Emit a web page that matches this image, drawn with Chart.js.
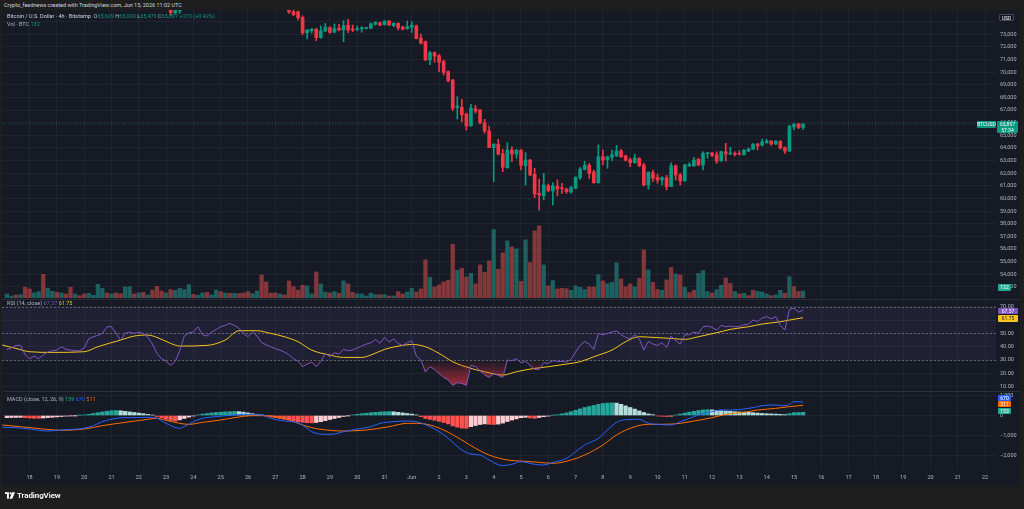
<!DOCTYPE html>
<html>
<head>
<meta charset="utf-8">
<title>BTCUSD 4h - Bitstamp</title>
<script src="https://cdn.jsdelivr.net/npm/chart.js@4.4.1/dist/chart.umd.min.js"></script>
<style>
  html, body { margin: 0; padding: 0; }
  body { width: 1024px; height: 509px; background: #1e1e1e; position: relative; overflow: hidden;
         font-family: Roboto, "Liberation Sans", sans-serif; color: #d1d4dc; }
  .abs { position: absolute; }
  #pane { left: 2px; top: 10px; width: 1018px; height: 476px; background: #161a25; }
  canvas { position: absolute; left: 2px; }
  #price { top: 10px; }
  #rsi { top: 301px; }
  #macd { top: 392px; }
  .sep { left: 2px; width: 1018px; height: 1px; background: #2a2e39; }
  .txt { font-size: 5.5px; line-height: 7px; white-space: nowrap; color: #b2b5be; }
  .tag { position: absolute; font-size: 5px; line-height: 6px; color: #fff; text-align: center; white-space: nowrap; border-radius: 1px; }
</style>
</head>
<body>
<div id="pane" class="abs"></div>
<canvas id="price" width="1018" height="288"></canvas>
<canvas id="rsi" width="1018" height="90"></canvas>
<canvas id="macd" width="1018" height="94"></canvas>
<div class="abs sep" style="top:299px"></div>
<div class="abs sep" style="top:391px"></div>

<div class="abs txt" style="left:4px;top:1.5px;color:#d1d4dc">Crypto_feednews created with TradingView.com, Jun 15, 2026 11:02 UTC</div>
<div class="abs txt" id="leg1" style="left:7px;top:13px"></div>
<div class="abs txt" id="leg2" style="left:7px;top:20.5px"></div>
<div class="abs txt" id="legRsi" style="left:7px;top:300px"></div>
<div class="abs txt" id="legMacd" style="left:7px;top:395.5px"></div>

<div class="tag" style="left:999px;top:14px;width:15px;height:7px;line-height:7px;background:#131722;border:0.5px solid #434651;box-sizing:border-box">USD</div>
<div class="tag" id="tagSym" style="left:977px;width:19px;height:7px;line-height:7px;background:#089981">BTCUSD</div>
<div class="tag" id="tagPrice" style="left:997px;width:21px;height:12px;background:#089981"></div>
<div class="tag" id="tagVol" style="left:998px;top:284px;width:13px;height:7px;line-height:7px;background:#22ab94"></div>
<div class="tag" id="tagRsi" style="left:998px;top:307.5px;width:20px;height:6.5px;background:#7e57c2"></div>
<div class="tag" id="tagRsiMa" style="left:998px;top:315px;width:20px;height:6.5px;background:#f7c51c;color:#131722"></div>
<div class="tag" id="tagMacd" style="left:998px;top:394.5px;width:13px;height:6px;background:#2962ff"></div>
<div class="tag" id="tagSig" style="left:998px;top:401px;width:13px;height:6px;background:#ff6d00"></div>
<div class="tag" id="tagHist" style="left:998px;top:407.5px;width:13px;height:6px;background:#22ab94"></div>

<div class="abs" style="left:5px;top:490px;height:10px;display:flex;align-items:center;gap:2px">
  <svg width="10" height="7" viewBox="0 0 36 24"><path fill="#fff" d="M0 0h14v24H7V7H0z"/><circle fill="#fff" cx="20" cy="4" r="4"/><path fill="#fff" d="M26 0h10L26 24H16z"/></svg>
  <span style="font-size:8px;font-weight:600;color:#fff;letter-spacing:-0.1px">TradingView</span>
</div>

<script>
// time axis: 4h bars, index 0 = May 17 04:00 UTC
const dayLabels = ['18','19','20','21','22','23','24','25','26','27','28','29','30','31','Jun',
  '2','3','4','5','6','7','8','9','10','11','12','13','14','15','16','17','18','19','20','21','22'];
const firstDayBar = 5;
const barsPerDay = 6;

// candles from bar 36 (older bars sit above the visible price range)
const ohlcStart = 36;
const open = [
  75200, 74700, 74850,
  null, null, null, null, null, null, null, null, null, null, null, null,
  null, null, null, null, null, null, null, null, null, null, null,
  75000, 74780, 74789, 74346, 73127, 73285, 73396, 72731, 73261, 73522,
  73158, 73475, 73340, 73736, 73420, 73364, 73443, 73475, 73475, 73792,
  73918, 73760, 74053, 73681, 73871, 73578, 73443, 73554, 73681, 72707,
  72414, 70965, 71543, 71306, 70847, 70039, 69382, 67189, 67220, 66690,
  65740, 67110, 67006, 66001, 65344, 64022, 64291, 63547, 62439, 63840,
  63523, 63816, 62597, 63048, 61916, 60412, 60222, 61013, 60594, 60990,
  60832, 60752, 60515, 60808, 61647, 62312, 62629, 62097, 61251, 63309,
  63072, 63262, 63389, 63761, 63365, 63072, 62834, 63183, 62652, 61069,
  62043, 61679, 61465, 61647, 60935, 62597, 61861, 61386, 62597, 62597,
  63104, 62652, 63547, 63603, 63468, 62969, 63705, 63523, 63579, 63579,
  63468, 63761, 63895, 64315, 64212, 64418, 64553, 64315, 64529, 64022,
  63761, 65661, 65898, 65629
];
const high = [
  75400, 75300, 75400,
  null, null, null, null, null, null, null, null, null, null, null, null,
  null, null, null, null, null, null, null, null, null, null, null,
  75200, 74900, 74845, 74449, 73380, 73475, 73475, 73657, 73871, 73602,
  73815, 73792, 74077, 74188, 73736, 73657, 73602, 73554, 73895, 73998,
  73974, 74077, 74077, 73918, 73918, 73657, 74053, 73998, 73736, 73024,
  72469, 71654, 71622, 71385, 70965, 70118, 69437, 68060, 67854, 66770,
  67457, 67378, 67062, 66270, 65740, 64315, 64687, 63896, 64418, 64101,
  63896, 63895, 63626, 63104, 62392, 61520, 61995, 61148, 61251, 61465,
  61204, 60832, 60990, 61726, 62470, 62945, 62787, 62257, 64236, 63840,
  63365, 63840, 64212, 63895, 63444, 63207, 63500, 63231, 62787, 62122,
  62257, 61940, 61726, 61837, 62834, 62652, 61995, 62708, 62834, 63262,
  63183, 63705, 63658, 63658, 63705, 63761, 64371, 64054, 63705, 63784,
  63895, 63998, 64371, 64371, 64711, 64687, 64576, 64576, 64576, 64101,
  65795, 65953, 65953, 65930
];
const low = [
  74500, 74620, 74660,
  null, null, null, null, null, null, null, null, null, null, null, null,
  null, null, null, null, null, null, null, null, null, null, null,
  74660, 74480, 74132, 72968, 72628, 73079, 72493, 72683, 73206, 73079,
  73158, 73261, 72414, 73127, 73206, 73285, 73158, 73420, 73443, 73736,
  73681, 73736, 73713, 73602, 73340, 73340, 73396, 73158, 72628, 72232,
  70910, 70593, 70791, 70039, 69778, 69223, 66951, 66294, 66081, 65423,
  65740, 66745, 65899, 65162, 64022, 61330, 63444, 62122, 62392, 62913,
  63183, 62257, 61069, 61782, 60064, 59090, 59882, 60539, 59486, 60198,
  60412, 60412, 60412, 60776, 61520, 62257, 61599, 61203, 61203, 62652,
  62391, 62993, 63310, 63262, 62969, 62518, 62787, 62518, 60990, 60729,
  61330, 61203, 61069, 60673, 60935, 61465, 61069, 61386, 62518, 62518,
  62597, 62257, 63183, 63310, 62787, 62969, 62969, 63468, 63365, 63444,
  63421, 63705, 63895, 63840, 64157, 64371, 64212, 64260, 63919, 63579,
  63705, 65423, 65526, 65470
];
const close = [
  74700, 75000, 75300,
  null, null, null, null, null, null, null, null, null, null, null, null,
  null, null, null, null, null, null, null, null, null, null, null,
  74765, 74560, 74314, 73127, 73340, 73396, 72731, 73285, 73554, 73158,
  73443, 73340, 73681, 73340, 73340, 73443, 73499, 73522, 73839, 73950,
  73713, 74053, 73736, 73871, 73522, 73420, 73602, 73713, 72652, 72287,
  70965, 71543, 71282, 70791, 69991, 69319, 67141, 67323, 66635, 65740,
  67165, 66928, 66001, 65344, 64038, 64315, 63523, 62470, 63840, 63523,
  63816, 62629, 63048, 61861, 60356, 60277, 61069, 60618, 60990, 60752,
  60776, 60539, 60855, 61679, 62336, 62629, 61995, 61251, 63309, 63048,
  63286, 63468, 63761, 63309, 63024, 62834, 63207, 62597, 61069, 62074,
  61599, 61465, 61647, 60935, 62597, 61861, 61386, 62652, 62708, 63048,
  62652, 63579, 63579, 63421, 62969, 63705, 63523, 63579, 63500, 63500,
  63816, 63919, 64291, 64157, 64473, 64553, 64315, 64553, 63975, 63761,
  65740, 65898, 65624, 65897
];

// volume (BTC) for every bar from index 0, and its up/down colour flag
const volume = [
  76, 38, 57, 63, 202, 170, 95, 120, 447, 183,
  126, 107, 95, 76, 202, 76, 44, 76, 88, 50,
  258, 183, 95, 76, 95, 82, 208, 214, 76, 95,
  107, 57, 151, 221, 132, 95, 158, 145, 183, 158,
  252, 69, 50, 95, 107, 57, 151, 120, 95, 88,
  88, 82, 95, 120, 82, 132, 435, 302, 95, 95,
  76, 57, 321, 214, 151, 239, 227, 76, 491, 265,
  113, 95, 120, 88, 321, 265, 107, 76, 76, 38,
  88, 63, 63, 63, 38, 38, 120, 76, 113, 183,
  113, 170, 718, 391, 208, 246, 302, 334, 1014, 523,
  561, 397, 466, 265, 624, 485, 699, 1292, 542, 851,
  1077, 964, 926, 315, 1096, 668, 1266, 1361, 624, 227,
  328, 170, 183, 176, 145, 227, 202, 158, 208, 208,
  441, 321, 271, 296, 662, 359, 214, 265, 208, 372,
  907, 529, 296, 158, 145, 340, 573, 454, 435, 202,
  101, 145, 466, 517, 120, 95, 158, 239, 378, 277,
  120, 76, 88, 44, 145, 126, 113, 76, 44, 57,
  145, 88, 403, 214, 120, 132
];
const volUp = [
  1, 1, 0, 1, 0, 0, 1, 1, 0, 1,
  1, 0, 1, 0, 0, 1, 0, 0, 1, 1,
  1, 1, 0, 1, 0, 0, 1, 1, 0, 1,
  0, 1, 0, 0, 0, 1, 0, 1, 1, 1,
  1, 0, 1, 1, 0, 1, 1, 0, 1, 0,
  1, 0, 0, 0, 1, 1, 0, 0, 0, 0,
  1, 0, 0, 0, 0, 0, 1, 1, 0, 1,
  1, 0, 1, 0, 1, 0, 0, 1, 1, 1,
  1, 1, 0, 1, 0, 1, 0, 0, 1, 1,
  0, 0, 0, 1, 0, 0, 0, 0, 0, 1,
  0, 0, 1, 0, 0, 0, 0, 1, 0, 0,
  1, 0, 1, 0, 1, 0, 0, 0, 1, 0,
  1, 0, 0, 0, 1, 1, 1, 1, 0, 0,
  1, 0, 1, 1, 1, 0, 0, 0, 1, 0,
  0, 1, 0, 0, 1, 0, 0, 1, 0, 1,
  0, 0, 1, 1, 1, 0, 1, 1, 0, 0,
  1, 0, 1, 0, 0, 1, 1, 1, 0, 1,
  1, 0, 1, 0, 0, 1, 1, 0, 1
];

// RSI(14) per bar, and its moving average read at sampled bars
const rsi = [
  38, 39, 41, 41, 34, 31, 33, 31, 34, 36,
  37, 37.5, 40, 38, 37.5, 37, 37, 39, 46, 47.5,
  48.5, 50, 55, 55, 50, 45, 50, 51, 50, 51,
  50, 47, 42, 35, 31, 29, 26, 29, 37, 48,
  50.5, 51, 55, 49, 48, 51, 53, 55, 56, 57.5,
  56, 54, 50, 47.5, 51, 48, 43, 41.5, 40, 38.5,
  37.5, 36, 34, 31, 29, 25, 27, 28.5, 25, 29,
  35, 32.5, 35.5, 34.5, 38, 37, 37.5, 39, 40.5, 42,
  43, 45.5, 42.5, 47, 43.5, 46, 42.5, 41, 43, 44.5,
  33, 30, 21, 25, 23, 20, 17, 15, 11, 13,
  12.5, 11, 26, 25, 22, 19, 17, 20, 18.5, 17,
  30, 29.5, 31, 28, 29, 26, 23, 23, 28, 27.5,
  29.5, 29, 29, 28.5, 30.5, 36, 41, 44, 42, 38,
  50, 49, 50, 51, 52, 49, 47, 46, 49, 46,
  37.5, 44, 42, 41, 43, 39.5, 48, 44.5, 42, 49,
  49, 51, 50, 55, 55.5, 54.5, 52.5, 56, 55, 55.5,
  55, 55, 56.5, 57, 60, 59, 61.5, 62.5, 61, 62.5,
  56, 52.5, 68, 69, 66, 67.37
];
const rsiMaAt = [-1, 2, 5, 10, 17, 20, 25, 28, 31, 33, 36, 38, 44, 48, 51, 55, 58, 61, 64, 67,
  71, 74, 78, 80, 83, 87, 89, 92, 95, 98, 102, 105, 109, 112, 116, 119, 123, 126, 129, 133,
  136, 139, 142, 146, 149, 152, 156, 159, 163, 166, 170, 172, 175];
const rsiMa = [41.25, 38.75, 36.25, 35.75, 36.25, 40, 45, 48, 48.75, 47, 42.5, 40.5, 41, 45, 52, 52, 50, 47.5, 43.75, 37.5,
  33.75, 32, 32, 33.75, 38, 41, 41.75, 40, 35, 28.75, 23.75, 21.25, 18.75, 21.25, 23.75, 25, 27, 28.75, 32.5, 37.5,
  43.75, 47.5, 47, 46.25, 45.5, 47.5, 50.5, 53, 55, 57, 58.75, 60, 61.75];

// MACD(12, 26, 9): lines read at sampled bars, histogram per bar
const macdAt = [-1, 2, 5, 9, 11, 13, 17, 19, 21, 24, 26, 28, 31, 33, 35, 38, 39, 41, 43, 46,
  48, 50, 52, 56, 58, 61, 63, 65, 67, 70, 72, 74, 78, 80, 82, 85, 88, 90, 93, 95,
  97, 100, 102, 104, 106, 109, 111, 113, 116, 118, 120, 123, 125, 127, 130, 132, 134, 136, 139, 141,
  143, 146, 148, 150, 152, 155, 157, 159, 162, 164, 166, 169, 171, 172, 173, 175];
const macd = [-592, -609, -675, -775, -742, -709, -642, -509, -309, -142, -109, -109, -92, -142, -392, -642, -559, -309, -142, -59,
  -9, 25, 58, 25, -142, -275, -309, -475, -809, -942, -925, -809, -642, -559, -392, -309, -275, -309, -559, -809,
  -1142, -1725, -1925, -1976, -2226, -2509, -2442, -2309, -2442, -2476, -2342, -2142, -1809, -1476, -1142, -726, -342, -209, -192, -392,
  -442, -475, -309, -142, 25, 192, 275, 275, 325, 392, 492, 525, 492, 558, 692, 670];
const signalAt = [-1, 3, 8, 12, 17, 21, 26, 31, 33, 35, 38, 40, 43, 47, 50, 54, 57, 61, 64, 67,
  71, 74, 79, 84, 88, 90, 93, 96, 100, 103, 106, 110, 113, 117, 120, 124, 127, 131, 134, 138,
  141, 144, 148, 151, 155, 158, 162, 165, 169, 172, 175];
const signal = [-475, -559, -675, -742, -675, -509, -342, -192, -142, -242, -392, -442, -342, -225, -109, -9, -9, -142, -392, -609,
  -742, -775, -725, -559, -392, -392, -475, -725, -1225, -1642, -1976, -2226, -2276, -2342, -2392, -2226, -1976, -1476, -975, -559,
  -442, -442, -392, -275, -109, 58, 158, 275, 358, 442, 511];
const hist = [
  -110, -100, -95, -90, -110, -125, -135, -140, -125, -105,
  -90, -70, -50, -30, -15, -5, 10, 30, 60, 100,
  140, 180, 215, 240, 250, 235, 210, 180, 150, 120,
  90, 55, 20, -50, -120, -190, -250, -280, -220, -150,
  -80, -20, 30, 70, 100, 130, 150, 165, 180, 190,
  200, 195, 170, 130, 90, 50, 15, -30, -70, -110,
  -150, -190, -230, -270, -310, -340, -360, -370, -350, -310,
  -260, -200, -150, -100, -50, -10, 30, 60, 90, 115,
  140, 160, 175, 190, 195, 185, 160, 130, 100, 70,
  30, -60, -150, -200, -240, -290, -350, -420, -520, -580,
  -630, -640, -560, -500, -450, -420, -440, -450, -430, -380,
  -300, -230, -170, -110, -90, -120, -140, -100, -60, -30,
  10, 40, 80, 130, 190, 260, 330, 400, 450, 500,
  560, 600, 620, 630, 620, 560, 480, 400, 320, 230,
  150, 80, 40, -20, -40, -50, -30, 20, 70, 120,
  170, 210, 250, 280, 290, 280, 260, 240, 220, 210,
  190, 180, 170, 160, 140, 120, 100, 90, 80, 70,
  60, 40, 90, 140, 150, 159
];

// ---- view ranges (bar units / value units) ----
const X_MIN = -1.066, X_MAX = 217.4;
const P_MIN = 52123, P_MAX = 74924, VOL_MAX = 5430;
const R_MIN = 6.8, R_MAX = 74.3;
const M_MIN = -2675, M_MAX = 1175;

const UP = '#089981', DOWN = '#f23645';
const GRID = 'rgba(42,46,57,0.55)';
const num = v => v.toLocaleString('en-US');

Chart.defaults.font.family = 'Roboto, "Liberation Sans", sans-serif';
Chart.defaults.font.size = 5.5;
Chart.defaults.color = '#b2b5be';

function xAxis(showLabels) {
  return {
    type: 'linear', min: X_MIN, max: X_MAX, offset: false,
    grid: { color: GRID, drawTicks: false, offset: false },
    border: { display: false },
    ticks: { display: showLabels, padding: 5, maxRotation: 0, autoSkip: false, callback: (v, i) => dayLabels[i] },
    afterBuildTicks: s => { s.ticks = dayLabels.map((_, i) => ({ value: firstDayBar + i * barsPerDay })); },
    afterFit: s => { s.height = showLabels ? 17 : 0; s.paddingLeft = 0; s.paddingRight = 0; }
  };
}
function yAxis(min, max, tickValues, fmt) {
  return {
    position: 'right', min, max, beginAtZero: false,
    grid: { color: GRID, drawTicks: false },
    border: { display: false },
    ticks: { padding: 4, autoSkip: false, callback: fmt },
    afterBuildTicks: s => { s.ticks = tickValues.map(v => ({ value: v })); },
    afterFit: s => { s.width = 24; s.paddingTop = 0; s.paddingBottom = 0; }
  };
}
const base = { responsive: false, devicePixelRatio: 1, animation: false,
  plugins: { legend: { display: false }, tooltip: { enabled: false } } };

// ---- price + volume ----
const wicks = [], bodies = [];
open.forEach((o, j) => {
  if (o === null) return;
  const k = ohlcStart + j;
  wicks.push({ x: k, y: [low[j], high[j]], up: close[j] >= o });
  bodies.push({ x: k, y: [o, close[j]], up: close[j] >= o });
});
const last = close.length - 1;
const lastClose = close[last];

const priceChart = new Chart(document.getElementById('price'), {
  type: 'bar',
  data: { datasets: [
    { type: 'line', data: [{ x: X_MIN, y: lastClose }, { x: X_MAX, y: lastClose }], yAxisID: 'y',
      borderColor: 'rgba(8,153,129,0.5)', borderWidth: 1, borderDash: [1, 2], pointRadius: 0, order: 5 },
    { data: volume.map((v, k) => ({ x: k, y: v })), yAxisID: 'yv', barThickness: 3.6, grouped: false,
      backgroundColor: c => volUp[c.dataIndex] ? 'rgba(38,166,154,0.5)' : 'rgba(239,83,80,0.5)', order: 4 },
    { data: wicks, yAxisID: 'y', barThickness: 1, grouped: false,
      backgroundColor: c => c.raw.up ? UP : DOWN, order: 2 },
    { data: bodies, yAxisID: 'y', barThickness: 3, minBarLength: 1, grouped: false,
      backgroundColor: c => c.raw.up ? UP : DOWN, order: 1 }
  ]},
  options: { ...base,
    scales: {
      x: xAxis(false),
      y: yAxis(P_MIN, P_MAX, [53000, 54000, 55000, 56000, 57000, 58000, 59000, 60000, 61000, 62000, 63000,
        64000, 65000, 66000, 67000, 68000, 69000, 70000, 71000, 72000, 73000, 74000],
        v => v > 73000 ? '' : num(v)),
      yv: { display: false, min: 0, max: VOL_MAX }
    }
  }
});

// ---- RSI ----
const rsiCanvas = document.getElementById('rsi');
const rsiY = v => (R_MAX - v) / (R_MAX - R_MIN) * rsiCanvas.height;
const oversold = rsiCanvas.getContext('2d').createLinearGradient(0, rsiY(30), 0, rsiY(0));
oversold.addColorStop(0, 'rgba(242,54,69,0)');
oversold.addColorStop(1, 'rgba(242,54,69,1)');

const rsiBands = {
  id: 'rsiBands',
  beforeDatasetsDraw(chart) {
    const { ctx, chartArea: a, scales: { y } } = chart;
    const t = y.getPixelForValue(70), b = y.getPixelForValue(30);
    ctx.save();
    ctx.fillStyle = 'rgba(126,87,194,0.1)';
    ctx.fillRect(a.left, t, a.right - a.left, b - t);
    ctx.strokeStyle = 'rgba(120,123,134,0.75)';
    ctx.lineWidth = 1;
    ctx.setLineDash([2, 2]);
    [70, 50, 30].forEach(v => {
      const py = Math.round(y.getPixelForValue(v)) + 0.5;
      ctx.beginPath(); ctx.moveTo(a.left, py); ctx.lineTo(a.right, py); ctx.stroke();
    });
    ctx.restore();
  }
};

new Chart(rsiCanvas, {
  type: 'line',
  data: { datasets: [
    { data: rsi.map((v, k) => ({ x: k, y: v })), borderColor: '#7e57c2', borderWidth: 1, pointRadius: 0,
      fill: { target: { value: 30 }, above: 'rgba(0,0,0,0)', below: oversold } },
    { data: rsiMa.map((v, i) => ({ x: rsiMaAt[i], y: v })), borderColor: '#f7c51c', borderWidth: 1, pointRadius: 0,
      cubicInterpolationMode: 'monotone' }
  ]},
  options: { ...base,
    scales: { x: xAxis(false), y: yAxis(R_MIN, R_MAX, [10, 20, 30, 40, 50, 60, 70], v => v.toFixed(2)) } },
  plugins: [rsiBands]
});

// ---- MACD ----
function histColor(c) {
  const i = c.dataIndex, v = hist[i], p = i > 0 ? hist[i - 1] : v;
  if (v >= 0) return v >= p ? '#26a69a' : '#b2dfdb';
  return v < p ? '#ff5252' : '#ffcdd2';
}
new Chart(document.getElementById('macd'), {
  type: 'bar',
  data: { datasets: [
    { type: 'line', data: macd.map((v, i) => ({ x: macdAt[i], y: v })), borderColor: '#2962ff', borderWidth: 1,
      pointRadius: 0, cubicInterpolationMode: 'monotone', order: 1 },
    { type: 'line', data: signal.map((v, i) => ({ x: signalAt[i], y: v })), borderColor: '#ff6d00', borderWidth: 1,
      pointRadius: 0, cubicInterpolationMode: 'monotone', order: 2 },
    { data: hist.map((v, k) => ({ x: k, y: v })), barThickness: 3.6, grouped: false, backgroundColor: histColor, order: 3 }
  ]},
  options: { ...base,
    scales: { x: xAxis(true),
      y: yAxis(M_MIN, M_MAX, [-2000, -1000, 0, 1000], v => v === 0 ? '0' : (v < 0 ? '\u2212' : '') + num(Math.abs(v))) } }
});

// ---- legends and price tags ----
const teal = s => `<span style="color:#089981">${s}</span>`;
const chg = lastClose - close[last - 1];
document.getElementById('leg1').innerHTML =
  `<span style="color:#d1d4dc">Bitcoin / U.S. Dollar · 4h · Bitstamp</span>&nbsp; O${teal(num(open[last]))} H${teal(num(high[last]))} L${teal(num(low[last]))} C${teal(num(lastClose))} ${teal((chg >= 0 ? '+' : '') + num(chg) + ' (+' + (chg / close[last - 1] * 100).toFixed(2) + '%)')}`;
document.getElementById('leg2').innerHTML = `Vol · BTC ${teal(volume[volume.length - 1])}`;
const rsiLast = rsi[rsi.length - 1], maLast = rsiMa[rsiMa.length - 1];
document.getElementById('legRsi').innerHTML =
  `RSI (14, close) <span style="color:#7e57c2">${rsiLast.toFixed(2)}</span> <span style="color:#f7c51c">${maLast.toFixed(2)}</span>`;
const hLast = hist[hist.length - 1], mLast = macd[macd.length - 1], sLast = signal[signal.length - 1];
document.getElementById('legMacd').innerHTML =
  `MACD (close, 12, 26, 9) <span style="color:#26a69a">${hLast}</span> <span style="color:#2962ff">${mLast}</span> <span style="color:#ff6d00">${sLast}</span>`;

const yLast = 10 + priceChart.scales.y.getPixelForValue(lastClose);
const tagSym = document.getElementById('tagSym'); tagSym.style.top = (yLast - 3.5) + 'px';
const tagPrice = document.getElementById('tagPrice'); tagPrice.style.top = (yLast - 3) + 'px';
tagPrice.innerHTML = num(lastClose) + '<br>57:34';
document.getElementById('tagVol').textContent = volume[volume.length - 1];
document.getElementById('tagRsi').textContent = rsiLast.toFixed(2);
document.getElementById('tagRsiMa').textContent = maLast.toFixed(2);
document.getElementById('tagMacd').textContent = mLast;
document.getElementById('tagSig').textContent = sLast;
document.getElementById('tagHist').textContent = hLast;
</script>
</body>
</html>
